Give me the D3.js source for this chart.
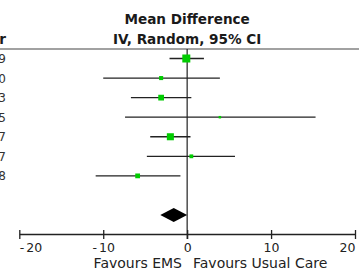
<!DOCTYPE html>
<html><head><meta charset="utf-8">
<script src="https://cdn.jsdelivr.net/npm/d3@7"></script>
<style>body{margin:0;background:#fff}svg{display:block}</style>
</head><body>
<svg id="c" width="359" height="273"></svg>
<script>
// data
const years = ["2009","2010","2013","2015","2017","2017","2018"];
const meanDiff = [-0.1, -3.1, -3.1, 3.9, -2.0, 0.5, -5.9];
const ciLow = [-2.1, -10.0, -6.7, -7.4, -4.4, -4.8, -10.9];
const ciHigh = [2.0, 3.9, 0.5, 15.3, 0.4, 5.7, -0.8];
const weights = [31, 8, 16, 3, 24, 7, 11];
const pooled = {md: -1.6, low: -3.2, high: 0.0};
const ticks = [-20, -10, 0, 10, 20];
const headerLines = ["Mean Difference", "IV, Random, 95% CI"];
const yearHeader = "Year";
const favourLeft = "Favours EMS", favourRight = "Favours Usual Care";

const svg = d3.select("#c");
const font = "'DejaVu Sans', Verdana, sans-serif";
const x = d3.scaleLinear().domain([-20, 20]).range([19.3, 355]);
const y = d3.scaleLinear().domain([0, 8]).range([58.5, 215]);
const size = d3.scaleSqrt().domain([0, 31]).range([0, 8]);
const axisY = 234;

// header
svg.selectAll("text.hdr").data(headerLines).join("text")
  .attr("x", x(0)).attr("y", (d,i)=>24 + i*20)
  .attr("text-anchor","middle").attr("font-family",font).attr("font-weight","bold")
  .attr("font-size",13.6).attr("fill","#1a1a1a").text(d=>d);
svg.append("text").attr("x",6).attr("y",44).attr("text-anchor","end")
  .attr("font-family",font).attr("font-weight","bold").attr("font-size",13.6)
  .attr("fill","#1a1a1a").text(yearHeader);
svg.append("line").attr("x1",0).attr("x2",359).attr("y1",49).attr("y2",49)
  .attr("stroke","#444").attr("stroke-width",1.2);

// zero line
svg.append("line").attr("x1",x(0)).attr("x2",x(0)).attr("y1",49).attr("y2",axisY+5)
  .attr("stroke","#222").attr("stroke-width",1.2);

// years
svg.selectAll("text.yr").data(years).join("text")
  .attr("x",6).attr("y",(d,i)=>y(i)+4.5).attr("text-anchor","end")
  .attr("font-family",font).attr("font-size",12).attr("fill","#333").text(d=>d);

// CI lines
const idx = d3.range(years.length);
svg.selectAll("line.ci").data(idx).join("line")
  .attr("x1",i=>x(ciLow[i])).attr("x2",i=>x(ciHigh[i]))
  .attr("y1",i=>y(i)).attr("y2",i=>y(i))
  .attr("stroke","#222").attr("stroke-width",1.3);
// squares
svg.selectAll("rect.pt").data(idx).join("rect")
  .attr("x",i=>x(meanDiff[i]) - size(weights[i])/2)
  .attr("y",i=>y(i) - size(weights[i])/2)
  .attr("width",i=>size(weights[i])).attr("height",i=>size(weights[i]))
  .attr("fill","#00cc00");

// diamond
const dy = y(8);
svg.append("path")
  .attr("d", `M${x(pooled.low)},${dy} L${x(pooled.md)},${dy-7} L${x(pooled.high)},${dy} L${x(pooled.md)},${dy+7}Z`)
  .attr("fill","#000");

// axis
const ax = d3.axisBottom(x).tickValues(ticks).tickSizeOuter(0).tickSizeInner(5)
  .tickFormat(d3.format("d"));
const g = svg.append("g").attr("transform",`translate(0,${axisY})`).call(ax);
g.select(".domain").attr("stroke","#222").attr("stroke-width",1.3);
g.selectAll(".tick line").attr("y1",-4).attr("y2",5).attr("stroke","#222").attr("stroke-width",1.3);
g.selectAll(".tick text")
  .attr("font-family",font).attr("font-size",12.5).attr("fill","#222").attr("y",17.5).attr("dy",0)
  .attr("text-anchor",(d,i)=> i===0 ? "start" : (i===ticks.length-1 ? "end" : "middle"))
  .each(function(d){
    const t = d3.select(this);
    const s = String(d);
    t.text(null);
    if (d < 0) {
      t.append("tspan").text("-");
      t.append("tspan").attr("dx",2).text(s.replace("-", "").replace("\u2212",""));
    } else t.text(s);
  });

// favours labels
svg.append("text").attr("x",182).attr("y",268).attr("text-anchor","end")
  .attr("font-family",font).attr("font-size",14).attr("fill","#222").text(favourLeft);
svg.append("text").attr("x",193).attr("y",268).attr("text-anchor","start")
  .attr("font-family",font).attr("font-size",14).attr("fill","#222").text(favourRight);
</script>
</body></html>
